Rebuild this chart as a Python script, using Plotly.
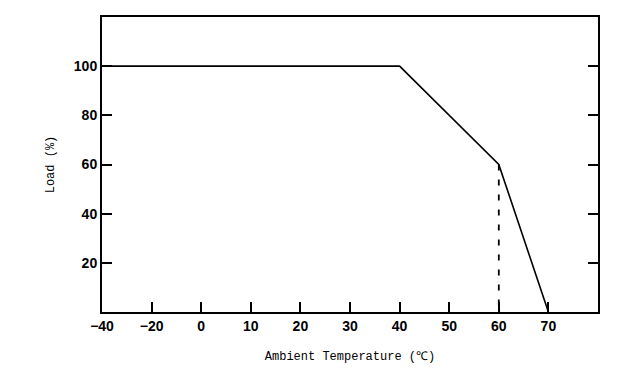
import numpy as np
import plotly.graph_objects as go

# Axis ticks (the x axis is spaced evenly per tick, not linearly)
x_tick_values = [-40, -20, 0, 10, 20, 30, 40, 50, 60, 70, 80]
x_tick_labels = ["−40", "−20", "0", "10", "20", "30", "40", "50", "60", "70", ""]
y_tick_values = [20, 40, 60, 80, 100]

# Derating curve
temp = [-40, 40, 60, 70]
load = [100, 100, 60, 0]

# Dashed marker line at 60 °C
dash_temp = [60, 60]
dash_load = [60, 0]

idx = np.arange(len(x_tick_values))

def pos(t):
    return np.interp(t, x_tick_values, idx)

fig = go.Figure()
fig.add_trace(go.Scatter(x=pos(temp), y=load, mode="lines",
                         line=dict(color="black", width=1.6), showlegend=False))
fig.add_trace(go.Scatter(x=pos(dash_temp), y=dash_load, mode="lines",
                         line=dict(color="black", width=1.8, dash="6px,9px"), showlegend=False))

tick_font = dict(family="Liberation Sans, Arial", size=14, color="black", weight="bold")
title_font = dict(family="Liberation Mono, DejaVu Sans Mono, monospace", size=12, color="black")

fig.update_layout(
    width=617, height=382,
    margin=dict(l=94, r=27, t=7, b=78),
    paper_bgcolor="white", plot_bgcolor="white",
    xaxis=dict(range=[0, 10], tickvals=list(idx), ticktext=x_tick_labels,
               ticks="inside", ticklen=10, tickwidth=1.5, tickcolor="black",
               showline=True, linecolor="black", linewidth=2, mirror=True,
               showgrid=False, zeroline=False, tickfont=tick_font,
               title=dict(text="Ambient Temperature (℃)", font=title_font, standoff=19)),
    yaxis=dict(range=[0, 120], tickvals=y_tick_values,
               ticks="inside", ticklen=10, tickwidth=1.5, tickcolor="black",
               showline=True, linecolor="black", linewidth=2, mirror="ticks",
               showgrid=False, zeroline=False, tickfont=tick_font,
               title=dict(text="Load (%)", font=title_font, standoff=17)),
)

fig.write_html("out.html")
